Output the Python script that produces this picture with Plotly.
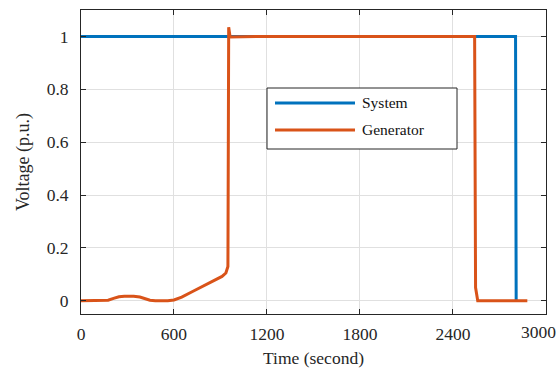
import plotly.graph_objects as go

# Data
sys_t = [0, 2804, 2808]
sys_v = [1.0, 1.0, 0.0]

gen_t = [0, 150, 175, 210, 245, 280, 340, 380, 415, 445, 480, 560, 600, 650, 720, 830, 910, 935, 948,
         953, 957, 962, 1200, 2540, 2546, 2560, 2880]
gen_v = [0, 0, 0.002, 0.009, 0.015, 0.017, 0.017, 0.014, 0.007, 0.002, 0, 0, 0.003, 0.014, 0.035, 0.068,
         0.092, 0.105, 0.13, 1.035, 1.0, 0.998, 1.0, 1.0, 0.05, 0, 0]

x_ticks = [0, 600, 1200, 1800, 2400, 3000]
x_tick_labels = ["0", "600", "1200", "1800", "2400", "3000"]
y_ticks = [0, 0.2, 0.4, 0.6, 0.8, 1]
y_tick_labels = ["0", "0.2", "0.4", "0.6", "0.8", "1"]

names = ["System", "Generator"]
colors = ["#0072BD", "#D95319"]

FONT = "Liberation Serif"
AX = "#262626"
GRID = "#e0e0e0"

fig = go.Figure()
fig.add_trace(go.Scatter(x=sys_t, y=sys_v, mode="lines", name=names[0],
                         line=dict(color=colors[0], width=3), showlegend=False))
fig.add_trace(go.Scatter(x=gen_t, y=gen_v, mode="lines", name=names[1],
                         line=dict(color=colors[1], width=3), showlegend=False))

axis_common = dict(showline=True, linecolor=AX, linewidth=1, mirror="allticks",
                   ticks="inside", ticklen=5, tickcolor=AX, showgrid=True,
                   gridcolor=GRID, gridwidth=1, zeroline=False, automargin=False,
                   tickfont=dict(family=FONT, size=17.5, color=AX))

# last x label is drawn as an annotation (shifted inward like the original)
fig.update_xaxes(range=[0, 3000.5], tickvals=x_ticks, ticktext=x_tick_labels[:-1] + [""],
                 ticklabelstandoff=4, **axis_common,
                 title=dict(text="Time (second)", font=dict(family=FONT, size=17.5, color=AX), standoff=8))
fig.update_yaxes(range=[-0.05, 1.1], tickvals=y_ticks, ticktext=y_tick_labels, ticklabelstandoff=8,
                 **axis_common,
                 title=dict(text="Voltage (p.u.)", font=dict(family=FONT, size=18, color=AX), standoff=12))

# Manual legend (paper coords)
L, R, T, B = 81, 546, 10, 314
W, H = R - L, B - T
def px(x): return (x - L) / W
def py(y): return (B - y) / H

shapes = [dict(type="rect", xref="paper", yref="paper", x0=px(267), x1=px(457), y0=py(149), y1=py(88),
               line=dict(color=AX, width=1), fillcolor="white", layer="above")]
annotations = [dict(xref="x", yref="paper", x=x_ticks[-1], y=0, text=x_tick_labels[-1],
                    showarrow=False, xanchor="center", yanchor="top", xshift=-7, yshift=-6,
                    font=dict(family=FONT, size=17.5, color=AX))]
for i, (nm, c) in enumerate(zip(names, colors)):
    yy = 103 + i * 27
    shapes.append(dict(type="line", xref="paper", yref="paper", x0=px(275), x1=px(355),
                       y0=py(yy), y1=py(yy), line=dict(color=c, width=3), layer="above"))
    annotations.append(dict(xref="paper", yref="paper", x=px(360), y=py(yy - 1), text=nm,
                            showarrow=False, xanchor="left", yanchor="middle",
                            font=dict(family=FONT, size=15.5, color="#111111")))

fig.update_layout(width=559, height=368, margin=dict(l=L, r=559 - R, t=T, b=368 - B),
                  plot_bgcolor="white", paper_bgcolor="white",
                  shapes=shapes, annotations=annotations)

fig.write_html("out.html")
